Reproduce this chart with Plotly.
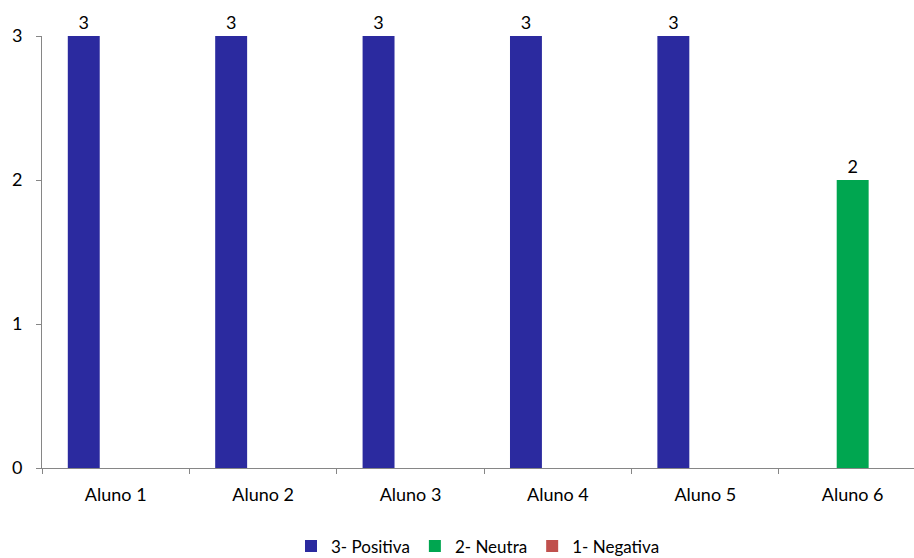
import plotly.graph_objects as go

# Category labels and series values
alunos = ["Aluno 1", "Aluno 2", "Aluno 3", "Aluno 4", "Aluno 5", "Aluno 6"]
positiva = [3, 3, 3, 3, 3, None]
neutra = [None, None, None, None, None, 2]
negativa = [None, None, None, None, None, None]

series = [
    ("3- Positiva", positiva, "#2B2A9F"),
    ("2- Neutra", neutra, "#00A650"),
    ("1- Negativa", negativa, "#C0504D"),
]

FONT = "Lato, Calibri, sans-serif"
SIZE = 18

fig = go.Figure()
for name, vals, color in series:
    fig.add_trace(go.Bar(
        name=name,
        x=alunos,
        y=vals,
        marker=dict(color=color, line=dict(width=0)),
        text=[str(v) if v else "" for v in vals],
        textposition="outside",
        textfont=dict(family=FONT, size=SIZE, color="#000000"),
        cliponaxis=False,
    ))

fig.update_layout(
    width=914,
    height=558,
    margin=dict(l=42, r=0, t=36, b=90, autoexpand=False),
    paper_bgcolor="white",
    plot_bgcolor="white",
    barmode="group",
    bargap=0.35,
    bargroupgap=0,
    font=dict(family=FONT, size=SIZE, color="#000000"),
    showlegend=True,
    legend=dict(
        orientation="h",
        x=0.5,
        xanchor="center",
        y=-0.14,
        yanchor="top",
        font=dict(family=FONT, size=SIZE - 1, color="#000000"),
        itemwidth=30,
        traceorder="normal",
    ),
    xaxis=dict(
        type="category",
        range=[-0.5, 5.416],
        showline=True,
        linecolor="#868686",
        linewidth=1,
        ticks="outside",
        tickson="boundaries",
        ticklen=5,
        tickcolor="#868686",
        ticklabelstandoff=10,
        showgrid=False,
        zeroline=False,
        tickfont=dict(family=FONT, size=SIZE, color="#000000"),
    ),
    yaxis=dict(
        range=[0, 3],
        tickvals=[0, 1, 2, 3],
        showline=True,
        linecolor="#868686",
        linewidth=1,
        ticks="outside",
        ticklen=5,
        tickcolor="#868686",
        ticklabelstandoff=10,
        showgrid=False,
        zeroline=False,
        tickfont=dict(family=FONT, size=SIZE, color="#000000"),
    ),
)

fig.write_html("out.html")
